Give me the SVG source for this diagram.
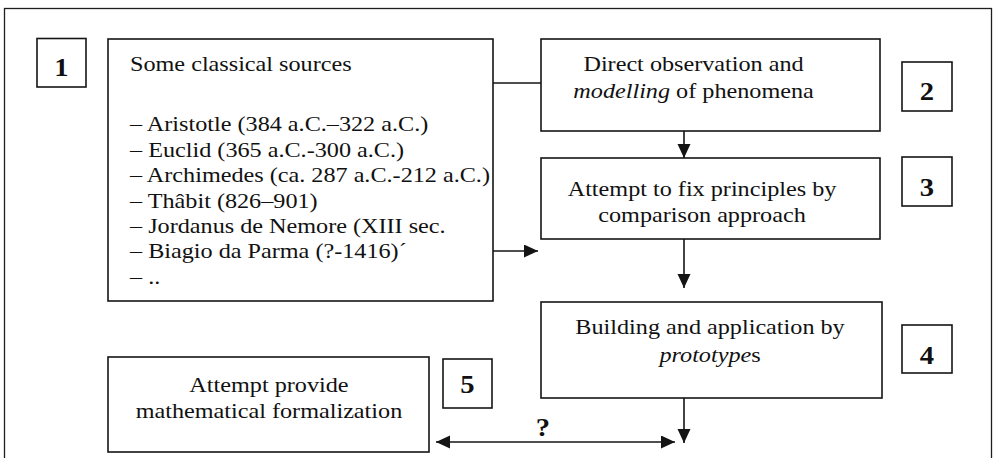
<svg xmlns="http://www.w3.org/2000/svg" width="996" height="458" viewBox="0 0 996 458">
  <style>
    .box { fill: #ffffff; stroke: #141414; stroke-width: 1.6; }
    .frame { fill: none; stroke: #1e1e1e; stroke-width: 1.3; }
    .txt { font-family: "Liberation Serif", "Times New Roman", serif; font-size: 22px; fill: #111111; }
    .mid { text-anchor: middle; }
    .num { font-family: "Liberation Serif", "Times New Roman", serif; font-size: 26px; font-weight: bold; fill: #111111; text-anchor: middle; }
    .conn { fill: none; stroke: #141414; stroke-width: 1.6; }
    .it { font-style: italic; }
  </style>
  <defs>
    <marker id="head" markerUnits="userSpaceOnUse" markerWidth="15" markerHeight="14" refX="14" refY="6.5" orient="auto-start-reverse">
      <path d="M0,0 L14,6.5 L0,13 z" fill="#141414"/>
    </marker>
  </defs>

  <rect width="996" height="458" fill="#ffffff"/>
  <!-- outer frame, open at the bottom edge of the page -->
  <rect class="frame" x="4.5" y="8.5" width="987" height="470"/>

  <!-- connectors -->
  <g id="connectors">
    <line class="conn" x1="493" y1="83" x2="541" y2="83"/>
    <line class="conn" x1="493" y1="251" x2="538" y2="251" marker-end="url(#head)"/>
    <line class="conn" x1="684" y1="131" x2="684" y2="158" marker-end="url(#head)"/>
    <line class="conn" x1="684" y1="239" x2="684" y2="288" marker-end="url(#head)"/>
    <line class="conn" x1="684" y1="398" x2="684" y2="443" marker-end="url(#head)"/>
    <line class="conn" x1="436" y1="442" x2="675" y2="442" marker-start="url(#head)" marker-end="url(#head)"/>
    <text class="num" transform="scale(1.1 1)" x="493.6" y="436" font-size="24">?</text>
  </g>

  <!-- step 1: sources -->
  <g id="label1">
    <rect class="box" x="37" y="38.5" width="49" height="48.5"/>
    <text class="num" transform="scale(1.1 1)" x="55.9" y="76">1</text>
  </g>
  <g id="node1">
    <rect class="box" x="108" y="39" width="385" height="262"/>
    <g class="txt" transform="scale(1.1 1)">
      <text x="118.2" y="71">Some classical sources</text>
      <text x="118.2" y="131">– Aristotle (384 a.C.–322 a.C.)</text>
      <text x="118.2" y="157">– Euclid (365 a.C.-300 a.C.)</text>
      <text x="118.2" y="182">– Archimedes (ca. 287 a.C.-212 a.C.)</text>
      <text x="118.2" y="208">– Thâbit (826–901)</text>
      <text x="118.2" y="233">– Jordanus de Nemore (XIII sec.</text>
      <text x="118.2" y="258">– Biagio da Parma (?-1416)´</text>
      <text x="118.2" y="284">– ..</text>
    </g>
  </g>

  <!-- step 2: observation -->
  <g id="node2">
    <rect class="box" x="541" y="39" width="339" height="92"/>
    <g class="txt mid" transform="scale(1.1 1)">
      <text x="630.5" y="71">Direct observation and</text>
      <text x="630.5" y="98"><tspan class="it">modelling</tspan> of phenomena</text>
    </g>
  </g>
  <g id="label2">
    <rect class="box" x="902" y="62" width="50" height="49"/>
    <text class="num" transform="scale(1.1 1)" x="842.7" y="100">2</text>
  </g>

  <!-- step 3: principles -->
  <g id="node3">
    <rect class="box" x="541" y="158" width="339" height="81"/>
    <g class="txt mid" transform="scale(1.1 1)">
      <text x="638.2" y="196">Attempt to fix principles by</text>
      <text x="638.2" y="222">comparison approach</text>
    </g>
  </g>
  <g id="label3">
    <rect class="box" x="902" y="157" width="50" height="49"/>
    <text class="num" transform="scale(1.1 1)" x="842.7" y="196">3</text>
  </g>

  <!-- step 4: prototypes -->
  <g id="node4">
    <rect class="box" x="541" y="302" width="341" height="96"/>
    <g class="txt mid" transform="scale(1.1 1)">
      <text x="645.5" y="334">Building and application by</text>
      <text x="645.5" y="362"><tspan class="it">prototype</tspan>s</text>
    </g>
  </g>
  <g id="label4">
    <rect class="box" x="902" y="325" width="50" height="48"/>
    <text class="num" transform="scale(1.1 1)" x="842.7" y="364">4</text>
  </g>

  <!-- step 5: formalization -->
  <g id="node5">
    <rect class="box" x="108" y="357" width="321" height="95"/>
    <g class="txt mid" transform="scale(1.1 1)">
      <text x="244.5" y="392">Attempt provide</text>
      <text x="244.5" y="418">mathematical formalization</text>
    </g>
  </g>
  <g id="label5">
    <rect class="box" x="443" y="359" width="49" height="49"/>
    <text class="num" transform="scale(1.1 1)" x="425" y="393">5</text>
  </g>
</svg>
